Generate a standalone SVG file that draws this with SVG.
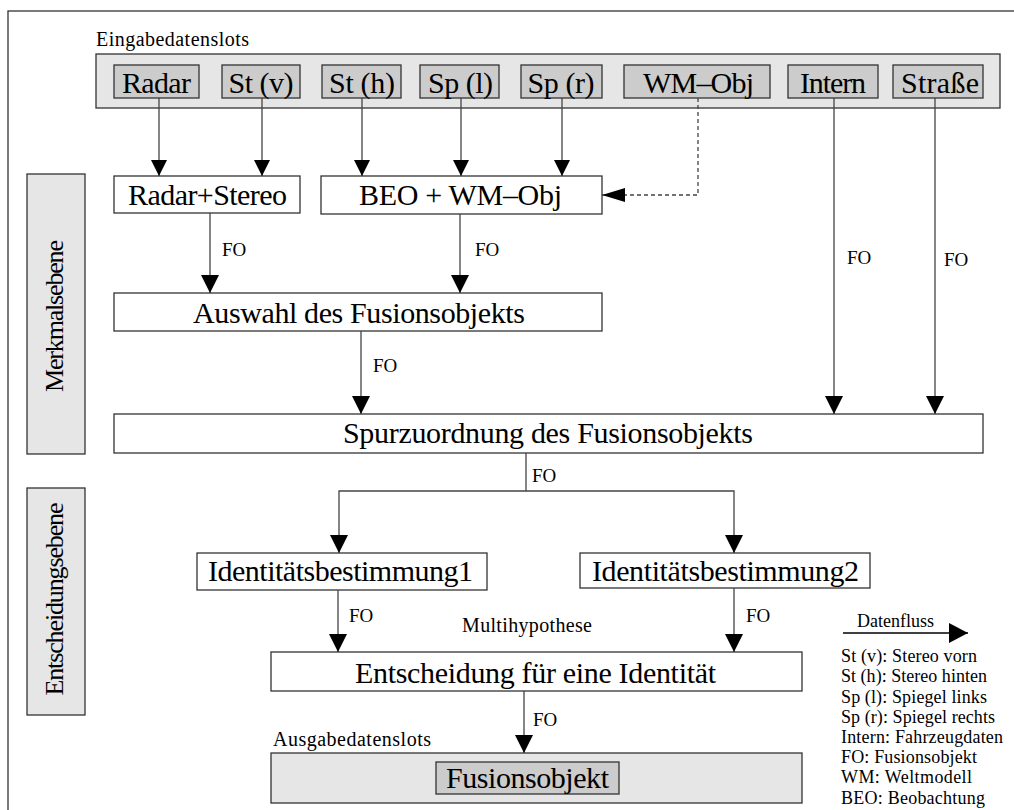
<svg xmlns="http://www.w3.org/2000/svg" width="1014" height="810" viewBox="0 0 1014 810">
<style>
text{font-family:"Liberation Serif","Times New Roman",serif;fill:#000}
.bar{fill:#e6e6e6;stroke:#333;stroke-width:1.3}
.slot{fill:#cccccc;stroke:#333;stroke-width:1.3}
.box{fill:#fff;stroke:#333;stroke-width:1.3}
.big{font-size:30px;text-anchor:middle}
.fo{font-size:19px}
.sm{font-size:20px}
.lg{font-size:18px}
.side{font-size:26px;text-anchor:middle}
.c line,.c path{fill:none;stroke:#444;stroke-width:1.3}
</style>
<defs>
<marker id="a" markerUnits="userSpaceOnUse" markerWidth="18" markerHeight="18" refX="18" refY="9" orient="auto" viewBox="0 0 18 18"><path d="M0,0 L18,9 L0,18 z" fill="#000"/></marker>
<marker id="s" markerUnits="userSpaceOnUse" markerWidth="16" markerHeight="16" refX="16" refY="8" orient="auto" viewBox="0 0 16 16"><path d="M0,0 L16,8 L0,16 z" fill="#000"/></marker>
<marker id="d" markerUnits="userSpaceOnUse" markerWidth="23" markerHeight="14" refX="23" refY="7" orient="auto" viewBox="0 0 23 14"><path d="M0,0 L23,7 L0,14 z" fill="#000"/></marker>
<marker id="l" markerUnits="userSpaceOnUse" markerWidth="19" markerHeight="20" refX="19" refY="10" orient="auto" viewBox="0 0 19 20"><path d="M0,0 L19,10 L0,20 z" fill="#000"/></marker>
</defs>
<rect x="8" y="11" width="1030" height="830" fill="none" stroke="#333" stroke-width="1.3"/>

<g id="eingabe">
<text x="96" y="46" class="sm" textLength="153" lengthAdjust="spacing">Eingabedatenslots</text>
<rect class="bar" x="96" y="54" width="904" height="54"/>
</g>
<g id="slot-radar"><rect class="slot" x="114" y="65" width="85" height="33"/><text class="big" x="156.5" y="93" textLength="69" lengthAdjust="spacing">Radar</text></g>
<g id="slot-stv"><rect class="slot" x="222" y="65" width="78" height="33"/><text class="big" x="261" y="93" textLength="65" lengthAdjust="spacing">St (v)</text></g>
<g id="slot-sth"><rect class="slot" x="322" y="65" width="79" height="33"/><text class="big" x="362" y="93" textLength="66" lengthAdjust="spacing">St (h)</text></g>
<g id="slot-spl"><rect class="slot" x="420" y="65" width="79" height="33"/><text class="big" x="460.5" y="93" textLength="65" lengthAdjust="spacing">Sp (l)</text></g>
<g id="slot-spr"><rect class="slot" x="521" y="65" width="81" height="33"/><text class="big" x="561" y="93" textLength="67" lengthAdjust="spacing">Sp (r)</text></g>
<g id="slot-wm"><rect class="slot" x="624" y="65" width="146" height="33"/><text class="big" x="698.5" y="93" textLength="111" lengthAdjust="spacing">WM–Obj</text></g>
<g id="slot-intern"><rect class="slot" x="788" y="65" width="90" height="33"/><text class="big" x="833" y="93" textLength="66" lengthAdjust="spacing">Intern</text></g>
<g id="slot-strasse"><rect class="slot" x="893" y="65" width="90" height="33"/><text class="big" x="940" y="93" textLength="78" lengthAdjust="spacing">Straße</text></g>

<g id="merkmalsebene"><rect class="bar" x="27" y="174" width="58" height="280"/><text class="side" transform="translate(63,316) rotate(-90)" textLength="152" lengthAdjust="spacing">Merkmalsebene</text></g>
<g id="entscheidungsebene"><rect class="bar" x="27" y="488" width="58" height="227"/><text class="side" transform="translate(63,599) rotate(-90)" textLength="193" lengthAdjust="spacing">Entscheidungsebene</text></g>

<g id="radar-stereo"><rect class="box" x="114" y="176" width="186" height="37"/><text class="big" x="207.5" y="205" textLength="159" lengthAdjust="spacing">Radar+Stereo</text></g>
<g id="beo-wm"><rect class="box" x="321" y="176" width="281" height="38"/><text class="big" x="460.5" y="205" textLength="203" lengthAdjust="spacing">BEO + WM–Obj</text></g>
<g id="auswahl"><rect class="box" x="114" y="293" width="488" height="38"/><text class="big" x="359" y="323" textLength="332" lengthAdjust="spacing">Auswahl des Fusionsobjekts</text></g>
<g id="spurzuordnung"><rect class="box" x="114" y="414" width="869" height="39"/><text class="big" x="548" y="443" textLength="410" lengthAdjust="spacing">Spurzuordnung des Fusionsobjekts</text></g>
<g id="ident1"><rect class="box" x="197" y="553" width="290" height="37"/><text class="big" x="340.5" y="581" textLength="265" lengthAdjust="spacing">Identitätsbestimmung1</text></g>
<g id="ident2"><rect class="box" x="580" y="553" width="290" height="35"/><text class="big" x="725.5" y="581" textLength="267" lengthAdjust="spacing">Identitätsbestimmung2</text></g>
<g id="entscheidung"><rect class="box" x="271" y="652" width="531" height="39"/><text class="big" x="535.5" y="683" textLength="361" lengthAdjust="spacing">Entscheidung für eine Identität</text></g>
<g id="ausgabe">
<text x="273" y="746" class="sm" textLength="158" lengthAdjust="spacing">Ausgabedatenslots</text>
<rect class="bar" x="271" y="753" width="531" height="50"/>
</g>
<g id="fusionsobjekt"><rect class="slot" x="436" y="762" width="183" height="32"/><text class="big" x="527.5" y="788" textLength="163" lengthAdjust="spacing">Fusionsobjekt</text></g>

<g id="connectors" class="c">
<line x1="159" y1="98" x2="159" y2="176" marker-end="url(#s)"/>
<line x1="262" y1="98" x2="262" y2="176" marker-end="url(#s)"/>
<line x1="362" y1="98" x2="362" y2="176" marker-end="url(#s)"/>
<line x1="461" y1="98" x2="461" y2="176" marker-end="url(#s)"/>
<line x1="562" y1="98" x2="562" y2="176" marker-end="url(#s)"/>
<path d="M698,98 V195 H602" stroke-dasharray="4,3" marker-end="url(#d)"/>
<line x1="834" y1="98" x2="834" y2="414" marker-end="url(#a)"/>
<line x1="935" y1="98" x2="935" y2="414" marker-end="url(#a)"/>
<line x1="210" y1="213" x2="210" y2="293" marker-end="url(#a)"/>
<line x1="460" y1="214" x2="460" y2="293" marker-end="url(#a)"/>
<line x1="361" y1="331" x2="361" y2="414" marker-end="url(#a)"/>
<line x1="526" y1="453" x2="526" y2="491"/>
<path d="M526,491 H339 V553" marker-end="url(#a)"/>
<path d="M526,491 H734 V553" marker-end="url(#a)"/>
<line x1="338" y1="590" x2="338" y2="652" marker-end="url(#a)"/>
<line x1="734" y1="588" x2="734" y2="652" marker-end="url(#a)"/>
<line x1="524" y1="691" x2="524" y2="753" marker-end="url(#a)"/>
<text class="fo" x="222" y="256">FO</text>
<text class="fo" x="475" y="256">FO</text>
<text class="fo" x="373" y="372">FO</text>
<text class="fo" x="847" y="264">FO</text>
<text class="fo" x="944" y="266">FO</text>
<text class="fo" x="532" y="482">FO</text>
<text class="fo" x="349" y="622">FO</text>
<text class="fo" x="746" y="622">FO</text>
<text class="fo" x="533" y="726">FO</text>
<text class="sm" x="462" y="632" textLength="130" lengthAdjust="spacing">Multihypothese</text>
</g>

<g id="legend">
<text class="lg" x="857" y="627" textLength="77" lengthAdjust="spacing">Datenfluss</text>
<line x1="843" y1="633" x2="968" y2="633" stroke="#000" stroke-width="1.3" marker-end="url(#l)"/>
<text class="lg" x="841" y="662" textLength="136" lengthAdjust="spacing">St (v): Stereo vorn</text>
<text class="lg" x="841" y="682" textLength="146" lengthAdjust="spacing">St (h): Stereo hinten</text>
<text class="lg" x="841" y="703" textLength="146" lengthAdjust="spacing">Sp (l): Spiegel links</text>
<text class="lg" x="841" y="723" textLength="154" lengthAdjust="spacing">Sp (r): Spiegel rechts</text>
<text class="lg" x="841" y="743" textLength="162" lengthAdjust="spacing">Intern: Fahrzeugdaten</text>
<text class="lg" x="841" y="763" textLength="136" lengthAdjust="spacing">FO: Fusionsobjekt</text>
<text class="lg" x="841" y="783" textLength="131" lengthAdjust="spacing">WM: Weltmodell</text>
<text class="lg" x="841" y="804" textLength="144" lengthAdjust="spacing">BEO: Beobachtung</text>
</g>
</svg>
